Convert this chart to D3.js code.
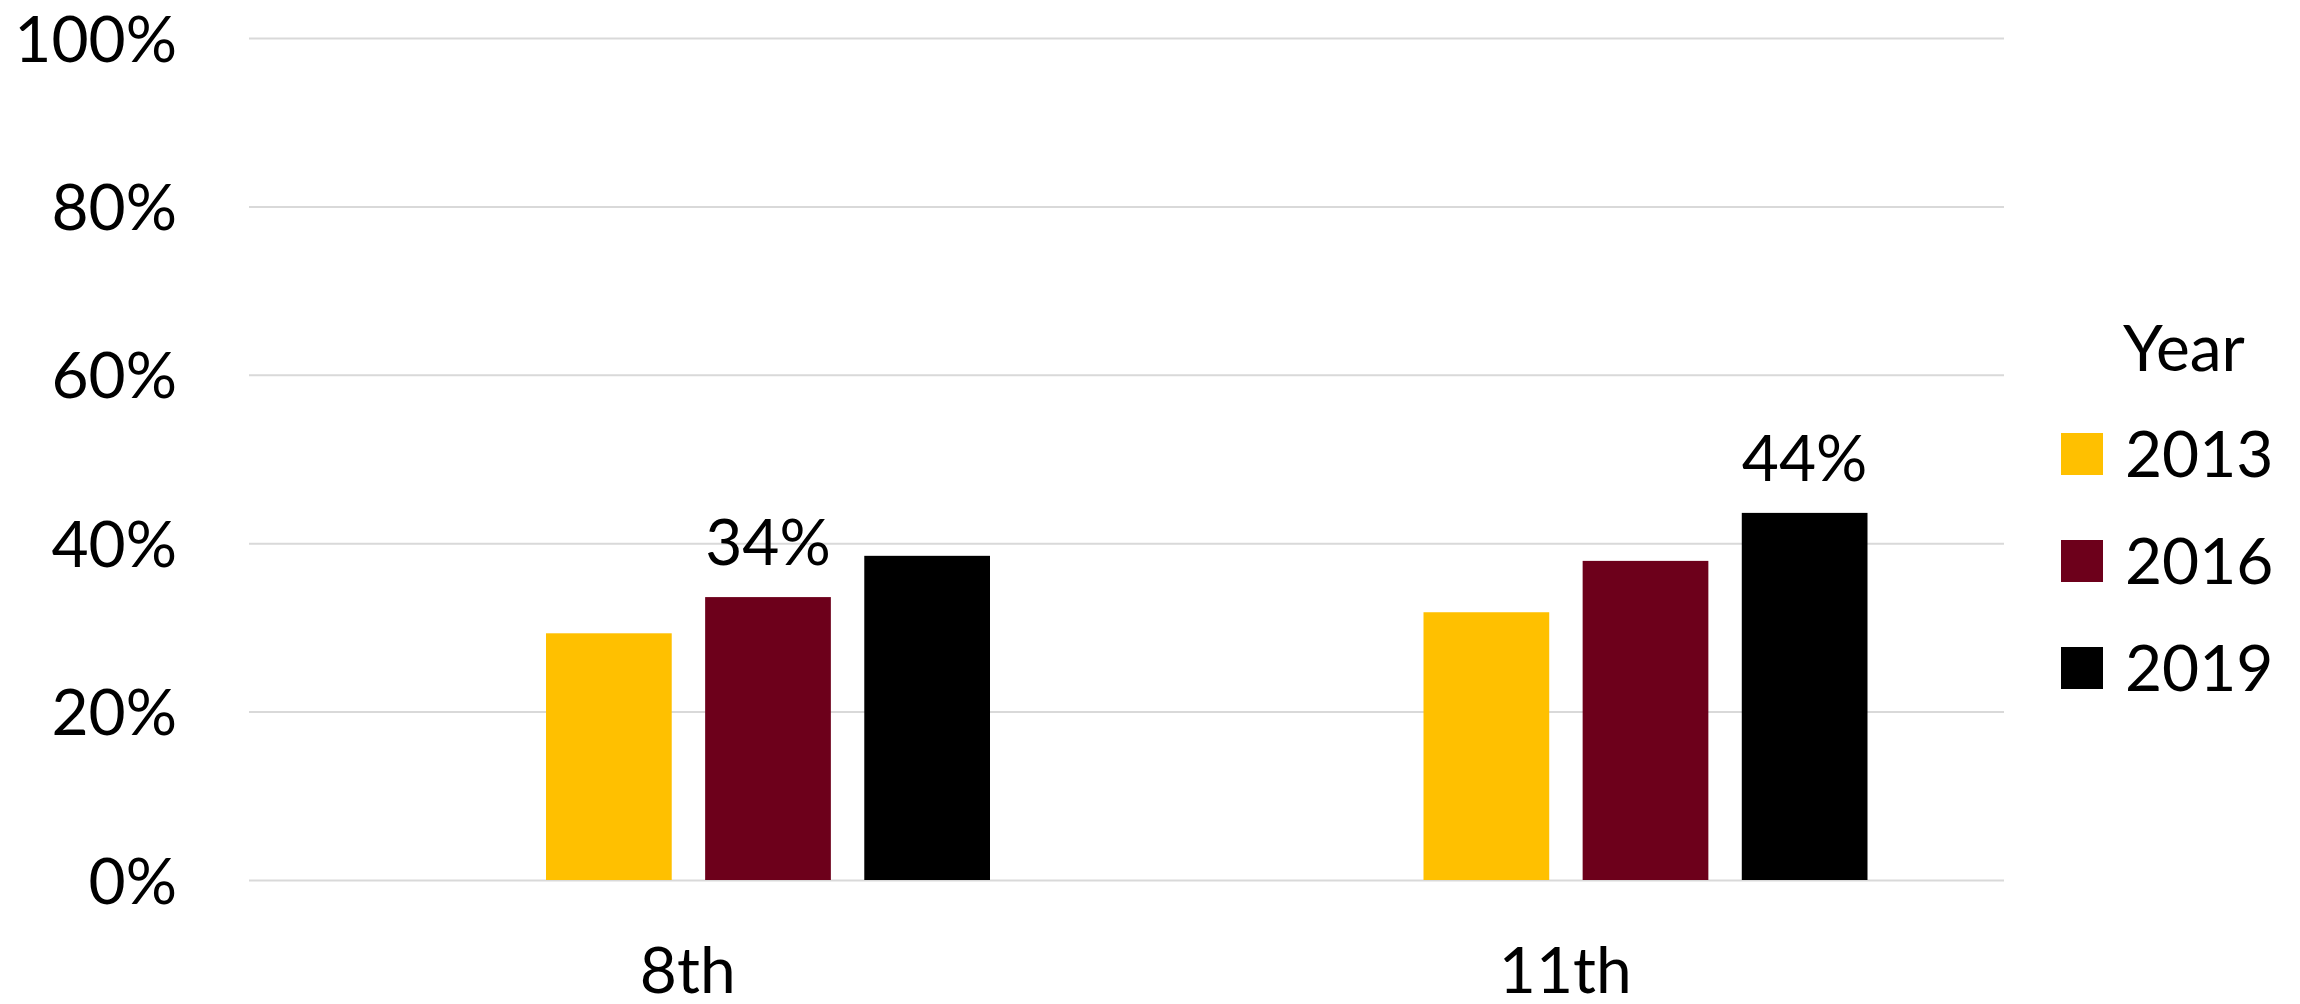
<!DOCTYPE html>
<meta charset="utf-8">
<style>
body { margin: 0; background: #fff; }
svg text { font-family: Lato, "Open Sans", sans-serif; font-size: 64px; fill: #000; }
.grid line { stroke: #d9d9d9; stroke-width: 2px; }
</style>
<svg width="2300" height="1004"></svg>
<script src="https://d3js.org/d3.v7.min.js"></script>
<script>

var grades = ["8th", "11th"];
var years = ["2013", "2016", "2019"];
var colors = ["#ffc000", "#6d001b", "#000000"];
var values2013 = [29.3, 31.8];
var values2016 = [33.6, 37.9];
var values2019 = [38.5, 43.6];
var yTicks = [0, 20, 40, 60, 80, 100];
// only these bars carry a value label
var labelled = [["8th", "2016"], ["11th", "2019"]];

var series = [values2013, values2016, values2019];

var svg = d3.select("svg"),
    plotLeft = 249, plotRight = 2004, plotTop = 38, plotBottom = 880;

var x0 = d3.scaleBand().domain(grades).range([plotLeft, plotRight]);
// bars sit in the right part of each band (hidden first slot)
var x1 = d3.scaleBand().domain(years).range([297, 741]).paddingInner(0.21);
var y = d3.scaleLinear().domain([0, 100]).range([plotBottom, plotTop]);
var color = d3.scaleOrdinal().domain(years).range(colors);

// grid + y labels
var yAxis = svg.append("g")
    .attr("class", "grid")
    .attr("transform", "translate(" + plotLeft + ",0)")
    .call(d3.axisLeft(y).tickValues(yTicks).tickSize(-(plotRight - plotLeft)).tickPadding(72)
        .tickFormat(function(d) { return d + "%"; }));
yAxis.select(".domain").remove();
yAxis.attr("font-size", null).attr("font-family", null);
yAxis.selectAll("text").attr("dy", "0.36em");

// bars
var rows = [];
grades.forEach(function(g, i) {
    years.forEach(function(yr, j) {
        rows.push({grade: g, year: yr, value: series[j][i]});
    });
});

svg.append("g").selectAll("rect")
    .data(rows)
    .enter().append("rect")
    .attr("x", function(d) { return x0(d.grade) + x1(d.year); })
    .attr("y", function(d) { return y(d.value); })
    .attr("width", x1.bandwidth())
    .attr("height", function(d) { return y(0) - y(d.value); })
    .attr("fill", function(d) { return color(d.year); });

// value labels
svg.append("g").selectAll("text")
    .data(rows.filter(function(d) {
        return labelled.some(function(l) { return l[0] == d.grade && l[1] == d.year; });
    }))
    .enter().append("text")
    .attr("text-anchor", "middle")
    .attr("x", function(d) { return x0(d.grade) + x1(d.year) + x1.bandwidth() / 2; })
    .attr("y", function(d) { return y(d.value) - 32; })
    .text(function(d) { return Math.round(d.value) + "%"; });

// x labels
var xAxis = svg.append("g")
    .attr("transform", "translate(0," + plotBottom + ")")
    .call(d3.axisBottom(x0).tickSize(0));
xAxis.select(".domain").remove();
xAxis.attr("font-size", null).attr("font-family", null);
xAxis.selectAll("text").attr("y", 113).attr("dy", 0);

// legend
var legend = svg.append("g");
legend.append("text").attr("x", 2123).attr("y", 371).text("Year");
var item = legend.selectAll(".item")
    .data(years)
    .enter().append("g")
    .attr("transform", function(d, i) { return "translate(0," + (i * 107) + ")"; });
item.append("rect")
    .attr("x", 2061).attr("y", 433)
    .attr("width", 42).attr("height", 42)
    .attr("fill", function(d) { return color(d); });
item.append("text")
    .attr("x", 2125).attr("y", 477)
    .text(function(d) { return d; });

</script>
